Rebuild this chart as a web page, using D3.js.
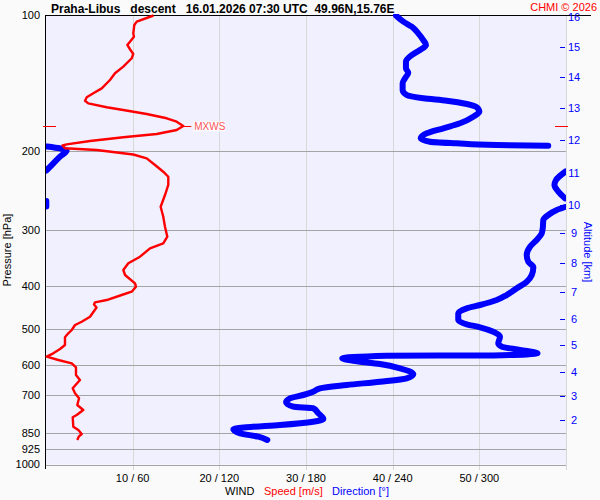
<!DOCTYPE html>
<html>
<head>
<meta charset="utf-8">
<script src="https://cdn.jsdelivr.net/npm/d3@7"></script>
<style>
  html, body { margin: 0; padding: 0; background: #fafafa; }
  #chart { width: 600px; height: 500px; }
  text { font-family: "Liberation Sans", Arial, sans-serif; }
</style>
</head>
<body>
<div id="chart"></div>
<script>
'use strict';

const TITLE = 'Praha-Libus   descent   16.01.2026 07:30 UTC  49.96N,15.76E';
const CREDIT = 'CHMI \u00a9 2026';

const PRESSURE_TICKS = [100, 200, 300, 400, 500, 600, 700, 850, 925, 1000];
const SPEED_TICKS = [10, 20, 30, 40, 50, 60];
const DIR_TICKS = [60, 120, 180, 240, 300, 360];

// altitude labels on the right side, placed at the pressure they sit at
const ALT_KM = [16, 15, 14, 13, 12, 11, 10, 9, 8, 7, 6, 5, 4, 3, 2];
const ALT_PRESSURE = [101, 117.7, 137.3, 161, 189.6, 224.6, 264, 305.5, 356, 412, 475, 542, 621, 704, 796];

// wind speed profile [hPa, m/s]
const speedPressure = [100, 103.2, 105, 109.6, 111.5, 114.4, 116.3, 118.9, 121.8, 124.5,
  130, 134.5, 139.2, 145.3, 149, 152.1, 154.8, 156.9, 160.1, 162.4,
  165.7, 169.4, 172.4, 176.2, 179.9, 183.6, 186.7, 190.3, 193.6, 194.8,
  197.6, 199.3, 204, 208, 215.3, 222.8, 228.6, 238.5, 251.1, 266.6,
  280.6, 295.4, 310.9, 321.6, 330, 344.5, 356.4, 368.8, 378.4, 394.9,
  401.8, 412.2, 419.3, 430.2, 435.3, 440.2, 447, 468.6, 480.8, 489,
  501.7, 510.2, 520.9, 541.8, 553, 565.4, 575.2, 585.1, 595.1, 607.5,
  632, 648.4, 676.6, 694.1, 712.2, 737, 756.2, 775.8, 785, 823.8,
  837.8, 855.3, 867.1, 881.9];
const speedValues = [12.4, 10.47, 10.19, 10.07, 10.15, 9.69, 9.38, 9.69, 10.07, 9.89,
  8.92, 7.96, 7.38, 6.43, 5.46, 4.7, 4.5, 4.88, 7.0, 8.92,
  11.62, 13.93, 15.08, 15.84, 15.08, 12.77, 8.92, 5.08, 2.39, 1.9,
  2.19, 5.85, 10.07, 11.62, 12.58, 13.53, 14.11, 14.11, 13.73, 13.23,
  13.53, 13.73, 14.0, 13.53, 12.0, 10.85, 9.5, 8.92, 9.12, 10.27,
  10.38, 9.89, 8.73, 7.0, 5.65, 5.54, 5.83, 5.08, 4.12, 3.35,
  2.97, 2.57, 2.19, 2.19, 1.62, 0.84, 0.08, 1.42, 2.97, 3.46,
  3.46, 3.92, 3.08, 3.35, 3.81, 3.61, 4.3, 3.54, 3.08, 3.15,
  3.73, 4.12, 3.77, 3.61];

// wind direction profile [hPa, deg]
const dirPressure = [100, 103.2, 105.9, 109.6, 113.4, 116.3, 119.4, 122.5, 126.7, 131.1,
  134.1, 138, 141.6, 146.5, 150.3, 152.9, 154.8, 157.4, 160.1, 163.8,
  168, 173.8, 178.3, 183, 187.7, 191, 192.6, 194.3, 195,
  195.8, 199.8, 206.3, 213.4, 221.4,
  222.6, 232.5, 238.5, 246.8, 255.3,
  258.9, 266.3,
  267, 271.1, 278.2, 285.4, 297.8, 305.6, 316.2, 327.3, 341.5, 353.5,
  363.8, 378.4, 391.6, 405.1, 419.3, 430.2, 441.3, 448.8, 460.5, 476.6,
  487.2, 494.8, 506.1, 519.3, 537.1, 546.5, 555.8, 565.4, 571.8, 572.4,
  580.1, 587.2, 597.3, 610.6, 629.7, 642.7, 654, 665.2, 676.6, 688.4,
  700.2, 712.2, 726.9, 743.5, 749.6, 769, 791.8, 802.9, 816.6, 826.3,
  834.9, 852.2, 867.1, 881.9];
const dirValues = [242.3, 247.4, 253.2, 257.7, 261.2, 263.1, 258.9, 253.2, 249.2, 249.2,
  250.8, 248.5, 246.9, 246.9, 249.7, 261.2, 277.4, 291.3, 298.2, 300,
  295.8, 286.6, 275.1, 263.6, 259.4, 265.8, 284.3, 312, 347.7,
  0.7, 14.3, 9.7, 5.1, 0.3,
  359.7, 353.1, 352, 354.7, 359.3,
  0.2, 0.2,
  359.3, 353.6, 347.7, 344.3, 343.9, 343.2, 339.7, 335.1, 332.8, 333.9,
  337.4, 336.3, 332.8, 325.9, 318.9, 312, 300.5, 291.3, 285.4, 285.4,
  291.3, 300.5, 309.7, 314.3, 313.1, 315.5, 328.2, 340.3, 309.7, 235.9,
  205.1, 212.7, 231.2, 245.1, 254.3, 249.7, 231.2, 208.2, 189.7, 185,
  178.1, 168.9, 166.2, 171.2, 185, 188.5, 192, 185, 162, 138.9,
  129.7, 134.3, 147, 153.2];

const PLOT = { left: 46, right: 566, top: 15.5, bottom: 464.5 };

const W = 600, H = 500;

const svg = d3.select('#chart')
  .append('svg')
  .attr('width', W)
  .attr('height', H);

const x = d3.scaleLinear().domain([0, 60]).range([PLOT.left, PLOT.right]);
const xDir = d3.scaleLinear().domain([0, 360]).range([PLOT.left, PLOT.right]);
const y = d3.scaleLog().domain([100, 1000]).range([PLOT.top, PLOT.bottom]);

svg.append('defs').append('clipPath')
  .attr('id', 'plot-clip')
  .append('rect')
  .attr('x', PLOT.left).attr('y', 14)
  .attr('width', PLOT.right - PLOT.left)
  .attr('height', PLOT.bottom - 14);

// plot background
svg.append('rect')
  .attr('x', PLOT.left).attr('y', 15)
  .attr('width', PLOT.right - PLOT.left)
  .attr('height', PLOT.bottom - 15)
  .attr('fill', '#f0f0ff');

// vertical grid (speed / direction)
svg.append('g')
  .selectAll('line')
  .data(SPEED_TICKS)
  .join('line')
  .attr('x1', d => Math.round(x(d)) + 0.5).attr('x2', d => Math.round(x(d)) + 0.5)
  .attr('y1', 15).attr('y2', 470)
  .attr('stroke', '#d8d8d8');

// horizontal grid (pressure)
svg.append('g')
  .selectAll('line')
  .data(PRESSURE_TICKS.slice(1))
  .join('line')
  .attr('x1', PLOT.left).attr('x2', PLOT.right)
  .attr('y1', d => Math.round(y(d)) + 0.5).attr('y2', d => Math.round(y(d)) + 0.5)
  .attr('stroke', '#a4a4a4');

// left axis + top border
svg.append('line')
  .attr('x1', 45.5).attr('x2', 45.5).attr('y1', 15).attr('y2', 469)
  .attr('stroke', '#000');
svg.append('line')
  .attr('x1', 46).attr('x2', 591).attr('y1', 15.5).attr('y2', 15.5)
  .attr('stroke', '#000');

// pressure labels
svg.append('g')
  .selectAll('text')
  .data(PRESSURE_TICKS)
  .join('text')
  .attr('x', 40)
  .attr('y', d => y(d))
  .attr('dy', '0.36em')
  .attr('text-anchor', 'end')
  .attr('font-size', '11px')
  .attr('fill', '#000')
  .text(d => d);

svg.append('text')
  .attr('transform', `translate(11,${250}) rotate(-90)`)
  .attr('text-anchor', 'middle')
  .attr('font-size', '11px')
  .attr('fill', '#000')
  .text('Pressure [hPa]');

// bottom labels speed / direction
svg.append('g')
  .selectAll('text')
  .data(SPEED_TICKS.slice(0, 5))
  .join('text')
  .attr('x', d => x(d))
  .attr('y', 481.5)
  .attr('text-anchor', 'middle')
  .attr('font-size', '11px')
  .attr('fill', '#000')
  .text((d, i) => `${d} / ${DIR_TICKS[i]}`);

const legend = svg.append('text')
  .attr('y', 495)
  .attr('font-size', '11px')
  .attr('xml:space', 'preserve');
legend.append('tspan').attr('x', 225).attr('fill', '#000').text('WIND');
legend.append('tspan').attr('x', 264).attr('fill', '#ff0000').text('Speed [m/s]');
legend.append('tspan').attr('x', 332).attr('fill', '#0000ff').text('Direction [\u00b0]');

// altitude axis (right)
const alt = svg.append('g');
alt.selectAll('line')
  .data(ALT_KM.slice(1))
  .join('line')
  .attr('x1', 560).attr('x2', 565)
  .attr('y1', (d, i) => Math.round(y(ALT_PRESSURE[i + 1])) + 0.5)
  .attr('y2', (d, i) => Math.round(y(ALT_PRESSURE[i + 1])) + 0.5)
  .attr('stroke', '#0000ff');
alt.selectAll('text')
  .data(ALT_KM)
  .join('text')
  .attr('x', 574)
  .attr('y', (d, i) => y(ALT_PRESSURE[i]))
  .attr('dy', '0.36em')
  .attr('text-anchor', 'middle')
  .attr('font-size', '11px')
  .attr('fill', '#0000ff')
  .text(d => d);

svg.append('text')
  .attr('transform', `translate(584,${252}) rotate(90)`)
  .attr('text-anchor', 'middle')
  .attr('font-size', '11px')
  .attr('fill', '#0000ff')
  .text('Altitude [km]');

// direction profile, split where it wraps round 0/360
const dirPoints = dirPressure.map((p, i) => ({ p, v: dirValues[i] }));
const dirSegments = [[dirPoints[0]]];
for (let i = 1; i < dirPoints.length; i++) {
  if (Math.abs(dirPoints[i].v - dirPoints[i - 1].v) > 180) dirSegments.push([]);
  dirSegments[dirSegments.length - 1].push(dirPoints[i]);
}

const dirLine = d3.line()
  .x(d => xDir(d.v))
  .y(d => y(d.p))
  .curve(d3.curveMonotoneY);

const plotG = svg.append('g').attr('clip-path', 'url(#plot-clip)');

dirSegments.forEach(seg => {
  plotG.append('path')
    .datum(seg)
    .attr('fill', 'none')
    .attr('stroke', '#0000ff')
    .attr('stroke-width', 6)
    .attr('stroke-linecap', 'round')
    .attr('stroke-linejoin', 'round')
    .attr('d', seg.length > 1 ? dirLine : d => `M${xDir(d[0].v)},${y(d[0].p)}h0`);
});

// speed profile
const speedPoints = speedPressure.map((p, i) => ({ p, v: speedValues[i] }));
const speedLine = d3.line()
  .x(d => x(d.v))
  .y(d => y(d.p));

svg.append('path')
  .datum(speedPoints)
  .attr('fill', 'none')
  .attr('stroke', '#ff0000')
  .attr('stroke-width', 2.4)
  .attr('stroke-linejoin', 'round')
  .attr('d', speedLine);

// max wind marker
const mx = speedPoints.reduce((a, b) => (b.v > a.v ? b : a));
const my = Math.round(y(mx.p)) + 0.5;
svg.append('line')
  .attr('x1', 43).attr('x2', 56).attr('y1', my).attr('y2', my)
  .attr('stroke', '#ff0000');
svg.append('line')
  .attr('x1', 555).attr('x2', 568).attr('y1', my).attr('y2', my)
  .attr('stroke', '#ff0000');
svg.append('line')
  .attr('x1', x(mx.v)).attr('x2', x(mx.v) + 8).attr('y1', my).attr('y2', my)
  .attr('stroke', '#ff0000');
svg.append('rect')
  .attr('x', x(mx.v) + 10).attr('y', my - 5)
  .attr('width', 32).attr('height', 10)
  .attr('fill', '#ffffff').attr('opacity', 0.7);
svg.append('text')
  .attr('x', x(mx.v) + 11)
  .attr('y', my)
  .attr('dy', '0.36em')
  .attr('font-size', '10px')
  .attr('fill', '#ff5555')
  .text('MXWS');

// title + credit
svg.append('text')
  .attr('x', 51).attr('y', 12.5)
  .attr('font-size', '12px')
  .attr('font-weight', 'bold')
  .attr('xml:space', 'preserve')
  .style('white-space', 'pre')
  .attr('fill', '#000')
  .text(TITLE);

svg.append('text')
  .attr('x', 597).attr('y', 10.5)
  .attr('text-anchor', 'end')
  .attr('font-size', '11px')
  .attr('fill', '#ff0000')
  .text(CREDIT);
</script>
</body>
</html>
